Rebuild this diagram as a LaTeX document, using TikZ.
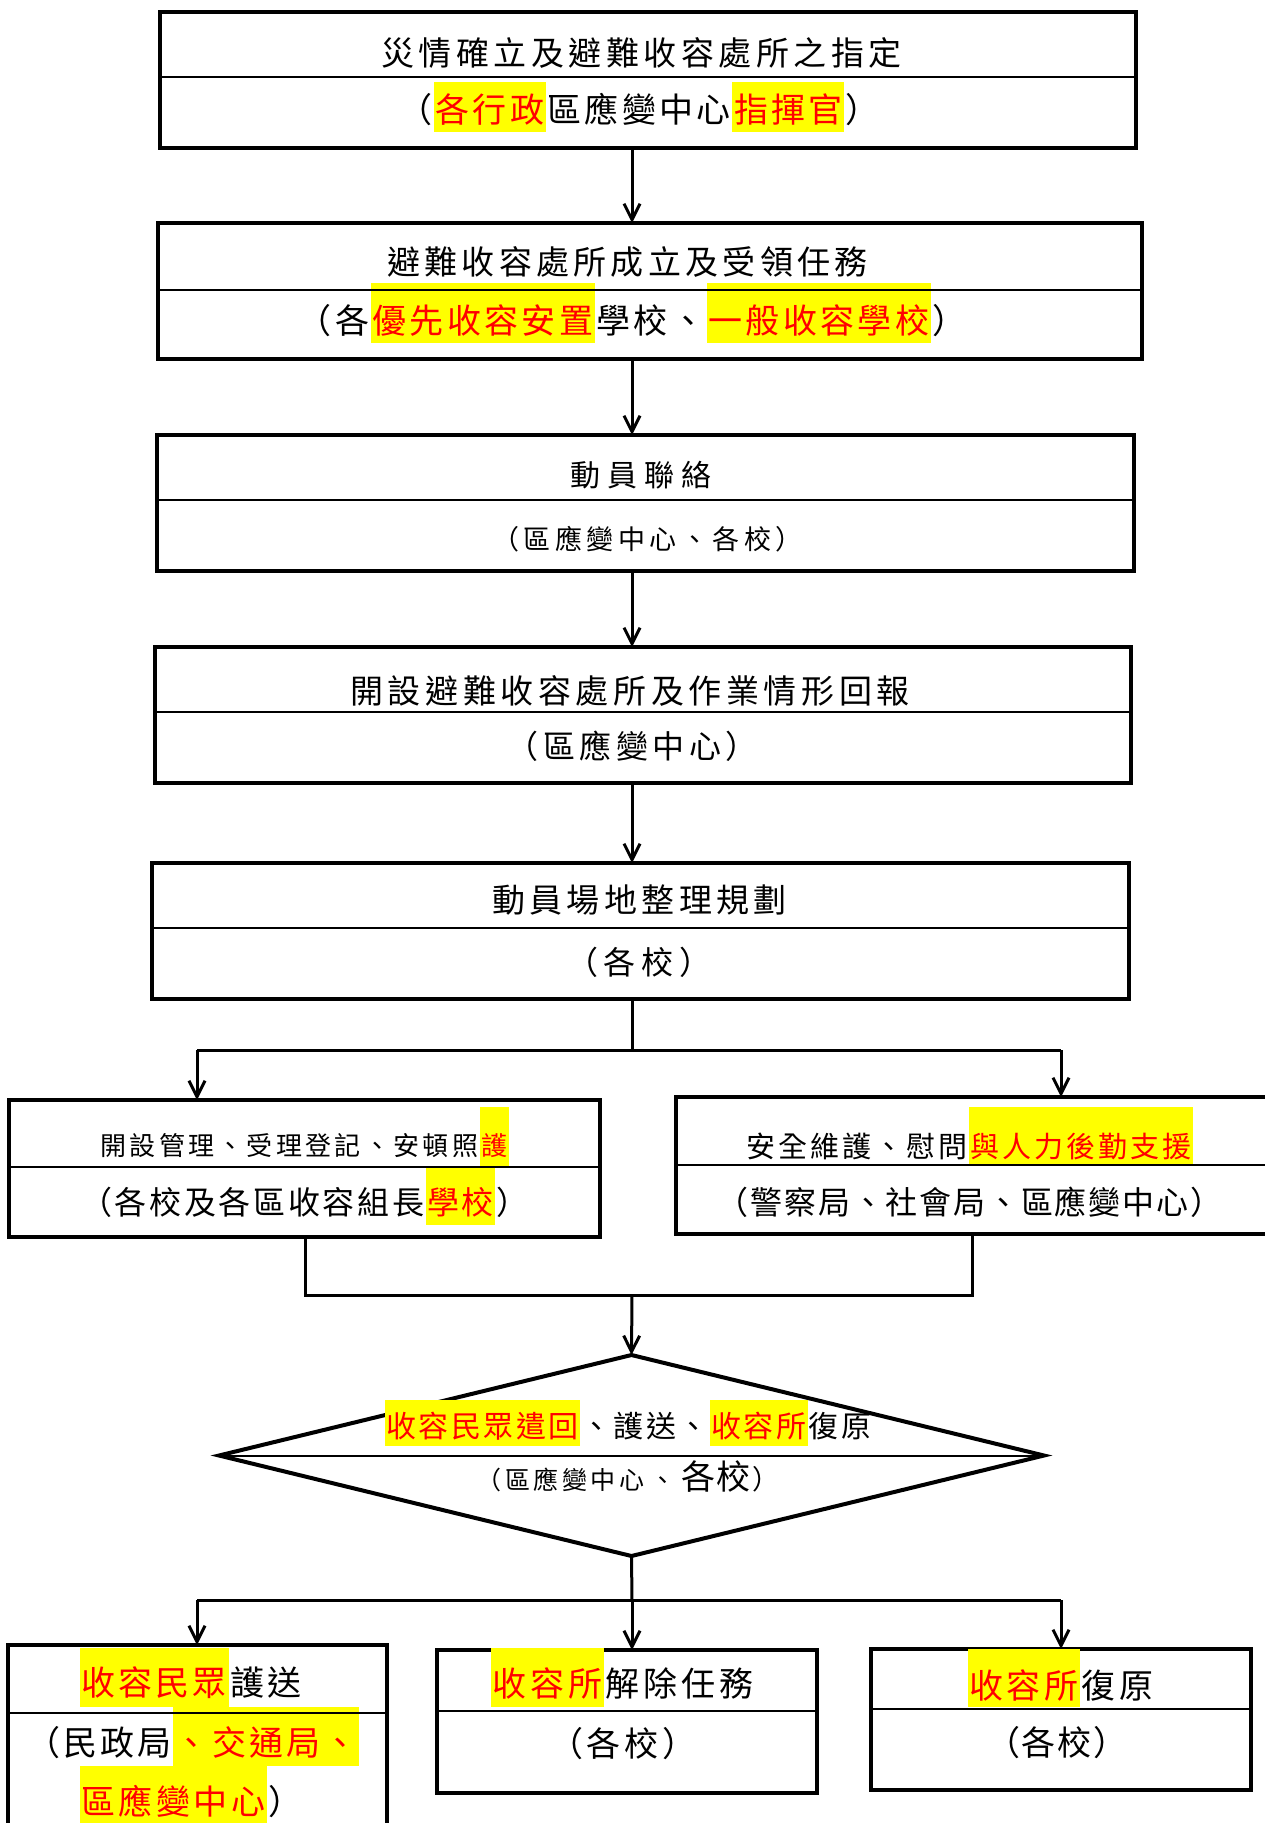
\documentclass[tikz,border=0pt]{standalone}
\usepackage{fontspec}
\newfontfamily\cjk{Noto Sans CJK TC}
\usetikzlibrary{arrows.meta,shapes.geometric}
\definecolor{hly}{RGB}{255,255,0}
\definecolor{hlr}{RGB}{255,0,0}
\newlength\pitchlen
\newcommand\lset[2]{\fontsize{#1pt}{#1pt}\selectfont\setlength\pitchlen{#2pt}}
\newcommand\pspc[1]{\pspcloop#1\relax}
\def\pspcloop#1{\ifx\relax#1\else\hbox to\pitchlen{\hss#1\hss}\expandafter\pspcloop\fi}
\newcommand\hlt[3]{{\setlength\fboxsep{0pt}\colorbox{hly}{\rule[-#2pt]{0pt}{\dimexpr#1pt+#2pt\relax}\color{hlr}\pspc{#3}}}}
\tikzset{
  box/.style={draw, rectangle, line width=4pt, inner sep=0pt, outer sep=0pt, anchor=north west},
  divider/.style={line width=2pt},
  conn/.style={line width=3pt},
  arr/.style={line width=3pt, -{Straight Barb[length=16pt,width=16pt]}},
  txt/.style={anchor=base west, inner sep=0pt, outer sep=0pt, font=\cjk},
}
\begin{document}
\begin{tikzpicture}[x=1pt,y=-1pt]
\fill[white] (0,0) rectangle (1264,1823);
\useasboundingbox (0,0) rectangle (1264,1823);

% boxes
\node[box, minimum width=976pt, minimum height=136pt] (b1) at (160,12) {};
\node[box, minimum width=984pt, minimum height=136pt] (b2) at (158,223) {};
\node[box, minimum width=977pt, minimum height=136pt] (b3) at (157,435) {};
\node[box, minimum width=976pt, minimum height=136pt] (b4) at (155,647) {};
\node[box, minimum width=977pt, minimum height=136pt] (b5) at (152,863) {};
\node[box, minimum width=591pt, minimum height=137pt] (b6) at (9,1100) {};
\node[box, minimum width=620pt, minimum height=137pt] (b7) at (676,1097) {};
\node[draw, diamond, line width=4pt, inner sep=0pt, outer sep=0pt,
      minimum width=825pt, minimum height=201pt] (dia) at (631.5,1455.5) {};
\node[box, minimum width=379pt, minimum height=220pt] (b8) at (8,1645) {};
\node[box, minimum width=380pt, minimum height=143pt] (b9) at (437,1650) {};
\node[box, minimum width=380pt, minimum height=141pt] (b10) at (871,1649) {};

% connectors
\coordinate (ax) at (632,0);
\draw[arr] (b1.south -| ax) -- (b2.north -| ax);
\draw[arr] (b2.south -| ax) -- (b3.north -| ax);
\draw[arr] (b3.south -| ax) -- (b4.north -| ax);
\draw[arr] (b4.south -| ax) -- (b5.north -| ax);

\coordinate (j1) at (632,1050);
\coordinate (j1l) at (197,1050);
\coordinate (j1r) at (1061,1050);
\draw[conn] (b5.south -| j1) -- (j1);
\draw[conn] (j1l) -- (j1r);
\draw[arr] (j1l) -- (b6.north -| j1l);
\draw[arr] (j1r) -- (b7.north -| j1r);

\coordinate (m1) at (632,1295);
\coordinate (m1l) at (305,1295);
\coordinate (m1r) at (972,1295);
\draw[conn] (b6.south -| m1l) -- (m1l) -- (m1r) -- (b7.south -| m1r);
\draw[arr] (m1) -- (dia.north);

\coordinate (j2) at (632,1600);
\coordinate (j2l) at (197,1600);
\coordinate (j2r) at (1061,1600);
\draw[conn] (dia.south) -- (j2);
\draw[conn] (j2l) -- (j2r);
\draw[arr] (j2l) -- (b8.north -| j2l);
\draw[arr] (j2) -- (b9.north -| j2);
\draw[arr] (j2r) -- (b10.north -| j2r);

% texts
\node[txt] (t1a) at (379,65) {\lset{33}{37.5}\pspc{災情確立及避難收容處所之指定}};
\node[txt] (t1b) at (396.7,122.9) {\lset{34}{37.3}\pspc{（}\hlt{40.9}{9.1}{各行政}\pspc{區應變中心}\hlt{40.9}{9.1}{指揮官}\pspc{）}};

\node[txt] (t2a) at (385,274.5) {\lset{33}{37.3}\pspc{避難收容處所成立及受領任務}};
\node[txt] (t2b) at (296.3,333.9) {\lset{34}{37.33}\pspc{（各}\hlt{50.9}{9.1}{優先收容安置}\pspc{學校、}\hlt{50.9}{9.1}{一般收容學校}\pspc{）}};

\node[txt] (t3a) at (567,486.9) {\lset{30}{37}\pspc{動員聯絡}};
\node[txt] (t3b) at (490,549.8) {\lset{27}{31.5}\pspc{（區應變中心、各校）}};

\node[txt] (t4a) at (348,703.5) {\lset{33}{37.6}\pspc{開設避難收容處所及作業情形回報}};
\node[txt] (t4b) at (504.5,758.9) {\lset{32}{36.5}\pspc{（區應變中心）}};

\node[txt] (t5a) at (490,912.5) {\lset{33}{37.4}\pspc{動員場地整理規劃}};
\node[txt] (t5b) at (563,974.2) {\lset{32}{38}\pspc{（各校）}};

\node[txt] (t6a) at (98.8,1155.9) {\lset{26}{29.3}\pspc{開設管理、受理登記、安頓照}\hlt{48.9}{10.1}{護}};
\node[txt] (t6b) at (78.7,1214.2) {\lset{32}{34.7}\pspc{（各校及各區收容組長}\hlt{48.2}{10.8}{學校}\pspc{）}};

\node[txt] (t7a) at (744.5,1157) {\lset{29}{32.07}\pspc{安全維護、慰問}\hlt{50}{9}{與人力後勤支援}};
\node[txt] (t7b) at (716,1214.2) {\lset{32}{33.8}\pspc{（警察局、社會局、區應變中心）}};

\node[txt] (td1) at (385,1437.4) {\lset{30}{32.5}\hlt{37.4}{8.6}{收容民眾遣回}\pspc{、護送、}\hlt{37.4}{8.6}{收容所}\pspc{復原}};
\node[txt] (td2) at (475,1489) {\lset{25}{28.5}\pspc{（區應變中心}\setlength\pitchlen{34pt}\pspc{、}\lset{34}{36}\pspc{各校}\lset{27}{28.5}\pspc{）}};

\node[txt] (t8a) at (79.6,1695.9) {\lset{34}{37.25}\hlt{47.9}{11.1}{收容民眾}\pspc{護送}};
\node[txt] (t8b) at (25,1755.9) {\lset{34}{37.1}\pspc{（民政局}\hlt{48.9}{10.1}{、交通局、}};
\node[txt] (t8c) at (79.6,1814.9) {\lset{34}{37.5}\hlt{48.9}{10.3}{區應變中心}\pspc{）}};

\node[txt] (t9a) at (491,1696.9) {\lset{34}{37.7}\hlt{48.9}{10.1}{收容所}\pspc{解除任務}};
\node[txt] (t9b) at (547,1756.9) {\lset{34}{38}\pspc{（各校）}};

\node[txt] (t10a) at (967.6,1698.9) {\lset{34}{37.5}\hlt{49.9}{8.1}{收容所}\pspc{復原}};
\node[txt] (t10b) at (985,1755.9) {\lset{34}{36}\pspc{（各校）}};

% dividers
\draw[divider] ([yshift=-65pt]b1.north west) -- ([yshift=-65pt]b1.north east);
\draw[divider] ([yshift=-67pt]b2.north west) -- ([yshift=-67pt]b2.north east);
\draw[divider] ([yshift=-65pt]b3.north west) -- ([yshift=-65pt]b3.north east);
\draw[divider] ([yshift=-65pt]b4.north west) -- ([yshift=-65pt]b4.north east);
\draw[divider] ([yshift=-65pt]b5.north west) -- ([yshift=-65pt]b5.north east);
\draw[divider] ([yshift=-67pt]b6.north west) -- ([yshift=-67pt]b6.north east);
\draw[divider] ([yshift=-68pt]b7.north west) -- ([yshift=-68pt]b7.north east);
\draw[divider] (dia.west) -- (dia.east);
\draw[divider] ([yshift=-68pt]b8.north west) -- ([yshift=-68pt]b8.north east);
\draw[divider] ([yshift=-61pt]b9.north west) -- ([yshift=-61pt]b9.north east);
\draw[divider] ([yshift=-60pt]b10.north west) -- ([yshift=-60pt]b10.north east);
\end{tikzpicture}
\end{document}
